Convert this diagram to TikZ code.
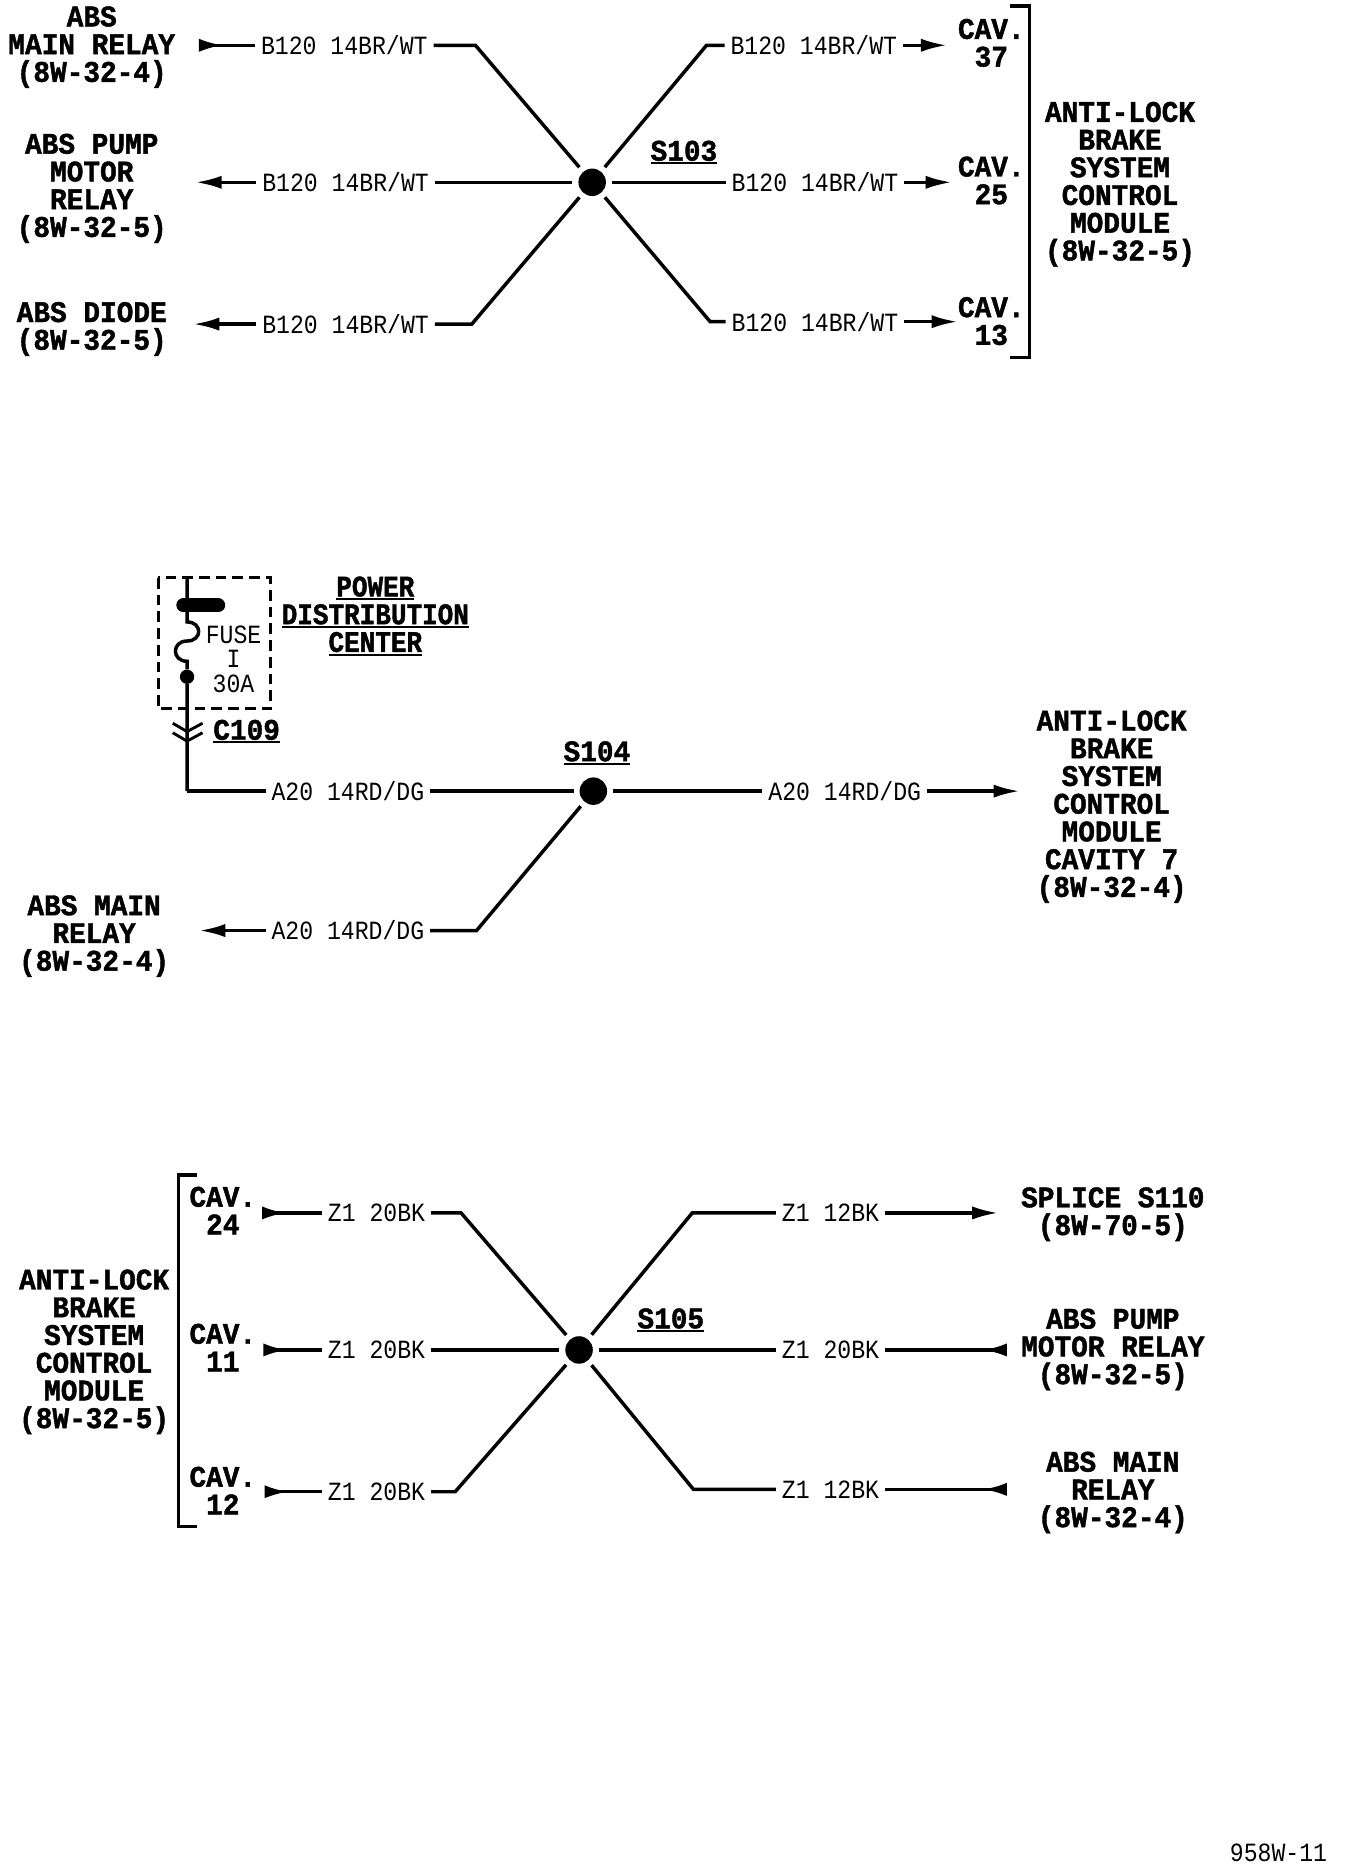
\documentclass[tikz,border=0pt]{standalone}
\usepackage{fontspec}
\usetikzlibrary{arrows.meta}
\newfontfamily\labfont[FakeStretch=.93,FakeBold=1.4]{Liberation Mono}
\newfontfamily\pdcfont[FakeStretch=.87,FakeBold=1.4]{Liberation Mono}
\newfontfamily\wirefont[FakeStretch=.88]{Liberation Mono}
\newcommand\ulab[1]{\vtop{\hbox{#1}\kern1.2pt\hrule height 1.6pt}}
\tikzset{
  lab/.style={font=\fontsize{25}{23.2}\selectfont\labfont\bfseries,align=center,inner sep=0pt,text=black},
  blk/.style={lab,yshift=-1.6pt},
  wl/.style={font=\fontsize{22}{20}\selectfont\wirefont,inner sep=0pt,outer sep=5pt,text=black},
  wire/.style={line width=2.9pt,draw=black},
  brk/.style={line width=2.9pt,draw=black,line cap=butt},
  thin/.style={line width=2.4pt,draw=black},
  spl/.style={circle,fill=black,inner sep=0pt,minimum size=23pt,outer sep=5pt},
  tipout/.style={-{Latex[length=22pt,width=11pt]}},
  tipin/.style={-{Latex[reversed,length=20pt,width=11pt]}},
}
\begin{document}
\begin{tikzpicture}[x=.9973pt,y=-.9973pt]
\useasboundingbox (0,0) rectangle (1128.05,1567.8);
% ---- S103
\node[spl] (s3) at (497,153) {};
\node[lab] (s3t) at (574,128) {\ulab{S103}};
\node[blk] (a1) at (77,38) {ABS\\MAIN RELAY\\(8W-32-4)};
\node[blk] (a2) at (77,156.5) {ABS PUMP\\MOTOR\\RELAY\\(8W-32-5)};
\node[blk] (a3) at (77,274.5) {ABS DIODE\\(8W-32-5)};
\node[wl] (w1) at (289,38) {B120 14BR/WT};
\node[wl] (w2) at (290,153) {B120 14BR/WT};
\node[wl] (w3) at (290,272) {B120 14BR/WT};
\node[wl] (w4) at (683,38) {B120 14BR/WT};
\node[wl] (w5) at (684,153) {B120 14BR/WT};
\node[wl] (w6) at (684,270) {B120 14BR/WT};
\coordinate (e1) at (167,38);
\coordinate (e2) at (164,153);
\coordinate (e3) at (162,272);
\coordinate (b1) at (399,38);
\coordinate (b3) at (396,272);
\coordinate (b4) at (593,38);
\coordinate (b6) at (596,270);
\coordinate (e4) at (795,38);
\coordinate (e5) at (799,153);
\coordinate (e6) at (804,270);
\draw[wire,tipin] (w1.west) -- (e1);
\draw[wire,tipout] (w2.west) -- (e2);
\draw[wire,tipout] (w3.west) -- (e3);
\draw[wire] (w1.east) -- (b1) -- (s3);
\draw[wire] (w2.east) -- (s3);
\draw[wire] (w3.east) -- (b3) -- (s3);
\draw[wire] (w4.west) -- (b4) -- (s3);
\draw[wire] (w5.west) -- (s3);
\draw[wire] (w6.west) -- (b6) -- (s3);
\draw[wire,tipout] (w4.east) -- (e4);
\draw[wire,tipout] (w5.east) -- (e5);
\draw[wire,tipout] (w6.east) -- (e6);
\node[lab] (c37) at (832,36) {CAV.\\37};
\node[lab] (c25) at (832,151.5) {CAV.\\25};
\node[lab] (c13) at (832,269.5) {CAV.\\13};
\coordinate (br1) at (848,5);
\coordinate (br2) at (864,5);
\coordinate (br3) at (864,300);
\coordinate (br4) at (848,300);
\draw[brk] (br1) -- (br2) -- (br3) -- (br4);
\node[blk] (abs1) at (940,153) {ANTI-LOCK\\BRAKE\\SYSTEM\\CONTROL\\MODULE\\(8W-32-5)};
% ---- S104
\coordinate (boxa) at (133,485);
\coordinate (boxb) at (227,595);
\draw[line width=2.6pt,dash pattern=on 9pt off 5pt] (boxa) rectangle (boxb);
\coordinate (f0) at (157,485);
\coordinate (barl) at (154,508);
\coordinate (barr) at (183,508);
\coordinate (f2) at (157,522);
\coordinate (f3) at (157,538);
\coordinate (f4) at (157,555);
\node[circle,fill=black,inner sep=0pt,minimum size=12pt] (fd) at (157,568) {};
\coordinate (cor) at (157,664);
\draw[wire] (f0) -- (f2) .. controls (170,522) and (170,538) .. (f3) .. controls (144,538) and (144,555) .. (f4) -- (fd) -- (cor);
\draw[line width=12pt,line cap=round] (barl) -- (barr);
\coordinate (ch1l) at (145,607); \coordinate (ch1m) at (157,614); \coordinate (ch1r) at (170,607);
\coordinate (ch2l) at (145,615); \coordinate (ch2m) at (157,622); \coordinate (ch2r) at (170,615);
\draw[thin] (ch1l) -- (ch1m) -- (ch1r);
\draw[thin] (ch2l) -- (ch2m) -- (ch2r);
\node[wl,align=center,font=\fontsize{22}{20.5}\selectfont\wirefont] (fz) at (196,553) {FUSE\\I\\30A};
\node[lab,font=\fontsize{25}{23.2}\selectfont\pdcfont\bfseries] (pdc) at (315,517) {\ulab{POWER}\\\ulab{DISTRIBUTION}\\\ulab{CENTER}};
\node[lab] (c109) at (207,614) {\ulab{C109}};
\node[spl] (s4) at (498,664) {};
\node[lab] (s4t) at (501,632) {\ulab{S104}};
\node[wl] (w7) at (292,664) {A20 14RD/DG};
\node[wl] (w8) at (709,664) {A20 14RD/DG};
\node[wl] (w9) at (292,781) {A20 14RD/DG};
\coordinate (e8) at (856,664);
\coordinate (e9) at (167,781);
\coordinate (b9) at (400,781);
\draw[wire] (cor) -- (w7.west);
\draw[wire] (w7.east) -- (s4);
\draw[wire] (s4) -- (w8.west);
\draw[wire,tipout] (w8.east) -- (e8);
\draw[wire,tipout] (w9.west) -- (e9);
\draw[wire] (w9.east) -- (b9) -- (s4);
\node[blk] (abs2) at (933,675.5) {ANTI-LOCK\\BRAKE\\SYSTEM\\CONTROL\\MODULE\\CAVITY 7\\(8W-32-4)};
\node[blk] (a9) at (79,784) {ABS MAIN\\RELAY\\(8W-32-4)};
% ---- S105
\node[spl] (s5) at (486,1133) {};
\node[lab] (s5t) at (563,1108) {\ulab{S105}};
\coordinate (lb1) at (165,986);
\coordinate (lb2) at (150,986);
\coordinate (lb3) at (150,1281);
\coordinate (lb4) at (165,1281);
\draw[brk] (lb1) -- (lb2) -- (lb3) -- (lb4);
\node[lab] (c24) at (187,1016) {CAV.\\24};
\node[lab] (c11) at (187,1131) {CAV.\\11};
\node[lab] (c12) at (187,1251) {CAV.\\12};
\node[blk] (abs3) at (79,1133) {ANTI-LOCK\\BRAKE\\SYSTEM\\CONTROL\\MODULE\\(8W-32-5)};
\node[wl] (z1) at (316,1018) {Z1 20BK};
\node[wl] (z2) at (316,1133) {Z1 20BK};
\node[wl] (z3) at (316,1252) {Z1 20BK};
\node[wl] (z4) at (697,1018) {Z1 12BK};
\node[wl] (z5) at (697,1133) {Z1 20BK};
\node[wl] (z6) at (697,1250) {Z1 12BK};
\coordinate (x1) at (220,1018);
\coordinate (x2) at (221,1133);
\coordinate (x3) at (222,1252);
\coordinate (b11) at (387,1018);
\coordinate (b13) at (382,1252);
\coordinate (b14) at (581,1018);
\coordinate (b16) at (582,1250);
\coordinate (x4) at (838,1018);
\coordinate (x5) at (845,1133);
\coordinate (x6) at (845,1250);
\draw[wire,tipin] (z1.west) -- (x1);
\draw[wire,tipin] (z2.west) -- (x2);
\draw[wire,tipin] (z3.west) -- (x3);
\draw[wire] (z1.east) -- (b11) -- (s5);
\draw[wire] (z2.east) -- (s5);
\draw[wire] (z3.east) -- (b13) -- (s5);
\draw[wire] (z4.west) -- (b14) -- (s5);
\draw[wire] (z5.west) -- (s5);
\draw[wire] (z6.west) -- (b16) -- (s5);
\draw[wire,tipout] (z4.east) -- (x4);
\draw[wire,tipin] (z5.east) -- (x5);
\draw[wire,tipin] (z6.east) -- (x6);
\node[blk] (spl) at (934,1017.5) {SPLICE S110\\(8W-70-5)};
\node[blk] (pm) at (934,1131) {ABS PUMP\\MOTOR RELAY\\(8W-32-5)};
\node[blk] (mr) at (934,1251) {ABS MAIN\\RELAY\\(8W-32-4)};
\node[wl] (code) at (1073,1555) {958W-11};
\end{tikzpicture}
\end{document}
